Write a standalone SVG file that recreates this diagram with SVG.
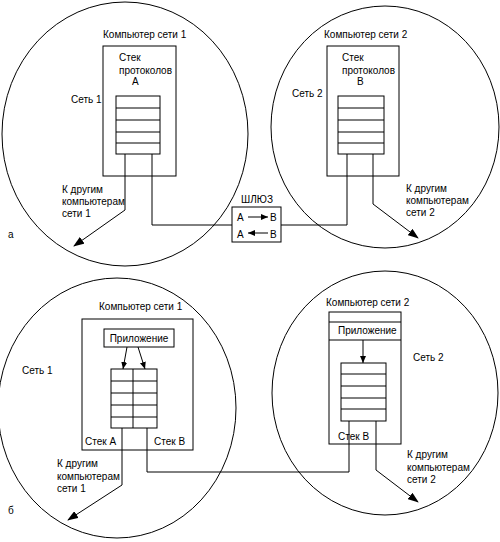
<svg xmlns="http://www.w3.org/2000/svg" width="500" height="542" viewBox="0 0 500 542">
<style>
text{font-family:"Liberation Sans",Arial,sans-serif;font-size:10px;fill:#000}
.c{fill:none;stroke:#000;stroke-width:1}
.b{fill:#fff;stroke:#000;stroke-width:1}
.l{fill:none;stroke:#000;stroke-width:1}
</style>
<defs>
<marker id="ah" markerWidth="11" markerHeight="8" refX="10" refY="4" orient="auto" markerUnits="userSpaceOnUse">
<path d="M0,0 L11,4 L0,8 z" fill="#000"/>
</marker>
<marker id="as" markerWidth="7" markerHeight="6" refX="7" refY="3" orient="auto" markerUnits="userSpaceOnUse">
<path d="M0,0 L7,3 L0,6 z" fill="#000"/>
</marker>
</defs>
<rect width="500" height="542" fill="#fff"/>

<g id="net1a"><ellipse class="c" cx="125" cy="134" rx="123" ry="132"/><text x="71" y="103">Сеть 1</text><text x="8" y="238">а</text></g>
<g id="net2a"><ellipse class="c" cx="385" cy="127" rx="114" ry="121"/><text x="292" y="97">Сеть 2</text></g>
<g id="net1b"><ellipse class="c" cx="117" cy="408" rx="119" ry="130"/><text x="22" y="374">Сеть 1</text><text x="8" y="514">б</text></g>
<g id="net2b"><ellipse class="c" cx="385" cy="393" rx="113" ry="122"/><text x="413" y="361">Сеть 2</text></g>

<g id="comp1a">
<rect class="b" x="103" y="46" width="73" height="130"/>
<text x="103" y="38">Компьютер сети 1</text>
<text x="119" y="61">Стек</text><text x="119" y="74">протоколов</text><text x="132" y="85">A</text>
<rect class="b" x="116" y="96" width="44" height="58"/>
<path class="l" d="M116,108H160M116,120H160M116,132H160M116,143H160"/>
</g>

<g id="comp2a">
<rect class="b" x="327" y="46" width="72" height="130"/>
<text x="324" y="38">Компьютер сети 2</text>
<text x="342" y="61">Стек</text><text x="342" y="74">протоколов</text><text x="357" y="85">B</text>
<rect class="b" x="338" y="96" width="46" height="58"/>
<path class="l" d="M338,108H384M338,120H384M338,132H384M338,143H384"/>
</g>

<g id="gateway">
<text x="257" y="203" text-anchor="middle">ШЛЮЗ</text>
<rect class="b" x="232" y="207" width="49" height="35"/>
<text x="237" y="221">A</text><text x="270" y="221">B</text>
<text x="237" y="238">A</text><text x="270" y="238">B</text>
<line class="l" x1="248" y1="217" x2="268" y2="217" marker-end="url(#as)"/>
<line class="l" x1="268" y1="233" x2="248" y2="233" marker-end="url(#as)"/>
</g>

<g id="other1a"><text x="62" y="193">К другим</text><text x="62" y="205">компьютерам</text><text x="62" y="217">сети 1</text></g>
<g id="other2a"><text x="406" y="192">К другим</text><text x="406" y="204">компьютерам</text><text x="406" y="216">сети 2</text></g>

<g id="comp1b">
<rect class="b" x="82" y="319" width="111" height="131"/>
<text x="99" y="310">Компьютер сети 1</text>
<rect class="b" x="104" y="329" width="70" height="18"/>
<text x="139" y="342" text-anchor="middle">Приложение</text>
<rect class="b" x="111" y="369" width="46" height="59"/>
<path class="l" d="M133,369V428M111,381H157M111,393H157M111,405H157M111,417H157"/>
<text x="85" y="445">Стек А</text><text x="154" y="445">Стек B</text>
</g>

<g id="comp2b">
<rect class="b" x="329" y="312" width="72" height="132"/>
<path class="l" d="M329,322H401M329,340H401"/>
<text x="326" y="306">Компьютер сети 2</text>
<text x="338" y="334">Приложение</text>
<rect class="b" x="341" y="363" width="45" height="58"/>
<path class="l" d="M341,374H386M341,386H386M341,398H386M341,409H386"/>
<text x="338" y="440">Стек B</text>
</g>

<g id="other1b"><text x="57" y="467">К другим</text><text x="57" y="480">компьютерам</text><text x="57" y="492">сети 1</text></g>
<g id="other2b"><text x="407" y="458">К другим</text><text x="407" y="471">компьютерам</text><text x="407" y="483">сети 2</text></g>

<g id="connectors">
<polyline class="l" points="125,154 125,210 74,246" marker-end="url(#ah)"/>
<polyline class="l" points="152,154 152,225 232,225"/>
<polyline class="l" points="281,225 347,225 347,154"/>
<polyline class="l" points="373,154 373,204 418,238" marker-end="url(#ah)"/>
<polyline class="l" points="122,428 122,485 68,520" marker-end="url(#ah)"/>
<polyline class="l" points="147,428 147,472 349,472 349,421"/>
<polyline class="l" points="376,421 376,470 418,502" marker-end="url(#ah)"/>
<line class="l" x1="127" y1="347" x2="123" y2="369" marker-end="url(#as)"/>
<line class="l" x1="138" y1="347" x2="145" y2="369" marker-end="url(#as)"/>
<line class="l" x1="363" y1="340" x2="363" y2="363" marker-end="url(#as)"/>
</g>
</svg>
